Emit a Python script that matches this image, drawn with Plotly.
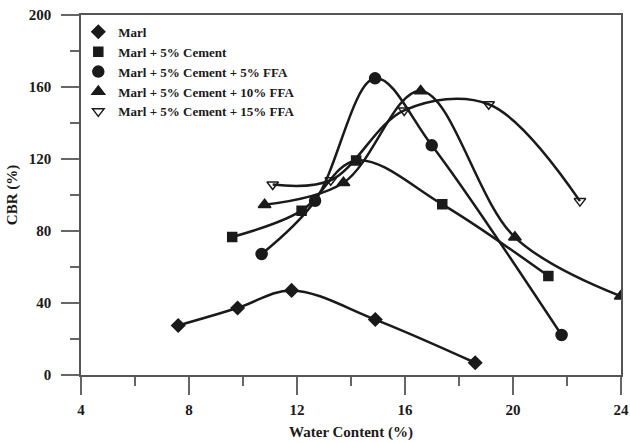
import plotly.graph_objects as go

# Data
marl_x = [7.6, 9.8, 11.8, 14.9, 18.6]
marl_y = [27.5, 37.2, 47.0, 30.8, 6.8]
cem_x = [9.6, 12.17, 14.19, 17.38, 21.31]
cem_y = [76.7, 91.3, 119.2, 94.8, 55.0]
ffa5_x = [10.69, 12.67, 14.89, 16.99, 21.8]
ffa5_y = [67.2, 96.8, 164.8, 127.6, 22.2]
ffa10_x = [10.8, 13.72, 16.58, 20.07, 23.99]
ffa10_y = [94.6, 106.8, 157.8, 76.5, 43.8]
ffa15_x = [11.1, 13.25, 15.97, 19.1, 22.48]
ffa15_y = [105.8, 108.2, 147.0, 150.4, 96.6]

x_ticks = [4, 8, 12, 16, 20, 24]
y_ticks = [0, 40, 80, 120, 160, 200]

names = ["Marl", "Marl + 5% Cement", "Marl + 5% Cement + 5% FFA",
         "Marl + 5% Cement + 10% FFA", "Marl + 5% Cement + 15% FFA"]
xs = [marl_x, cem_x, ffa5_x, ffa10_x, ffa15_x]
ys = [marl_y, cem_y, ffa5_y, ffa10_y, ffa15_y]
symbols = ["diamond", "square", "circle", "triangle-up", "triangle-down-open"]
sizes = [10, 9, 11, 11, 10]

INK = "#1a1a1a"
FONT = "Liberation Serif"

fig = go.Figure()
for x, y in zip(xs, ys):
    fig.add_trace(go.Scatter(x=x, y=y, mode="lines", showlegend=False,
                             line=dict(color=INK, width=2.5, shape="spline", smoothing=1.0),
                             hoverinfo="skip"))
for x, y, n, s, sz in zip(xs, ys, names, symbols, sizes):
    fig.add_trace(go.Scatter(x=x, y=y, mode="markers", name=n,
                             marker=dict(symbol=s, size=sz, color=INK,
                                         line=dict(color=INK, width=1.5))))

tickfont = dict(family=FONT, size=15, color=INK)
axis_common = dict(showline=True, linecolor="#555555", linewidth=1.5, mirror=True,
                   showgrid=False, zeroline=False, ticks="outside", tickcolor="#666666",
                   tickwidth=1.5, ticklen=18, tickfont=tickfont, tickmode="array",
                   automargin=False)
titlefont = dict(family=FONT, size=15, color=INK, weight="bold")

fig.update_xaxes(range=[4, 24], tickvals=x_ticks, ticktext=[f"<b>{v}</b>" for v in x_ticks],
                 ticklabelstandoff=2,
                 minor=dict(ticks="outside", ticklen=9, tickcolor="#666666", tickwidth=1.5,
                            tickvals=[6, 10, 14, 18, 22]),
                 title=dict(text="Water Content (%)", font=titlefont, standoff=10),
                 **axis_common)
fig.update_yaxes(range=[0, 200], tickvals=y_ticks, ticktext=[f"<b>{v}</b>" for v in y_ticks],
                 ticklabelstandoff=7,
                 minor=dict(ticks="outside", ticklen=9, tickcolor="#666666", tickwidth=1.5,
                            tickvals=[20, 60, 100, 140, 180]),
                 title=dict(text="CBR (%)", font=titlefont, standoff=8),
                 **axis_common)

fig.update_layout(
    width=630, height=443,
    margin=dict(l=81, r=9, t=15, b=68, autoexpand=False),
    paper_bgcolor="white", plot_bgcolor="white",
    font=dict(family=FONT, color=INK),
    legend=dict(x=-0.005, y=0.995, xanchor="left", yanchor="top",
                bgcolor="rgba(0,0,0,0)", borderwidth=0,
                font=dict(family=FONT, size=13, color=INK, weight="bold"),
                itemwidth=30, tracegroupgap=0),
)

fig.write_html("out.html")
